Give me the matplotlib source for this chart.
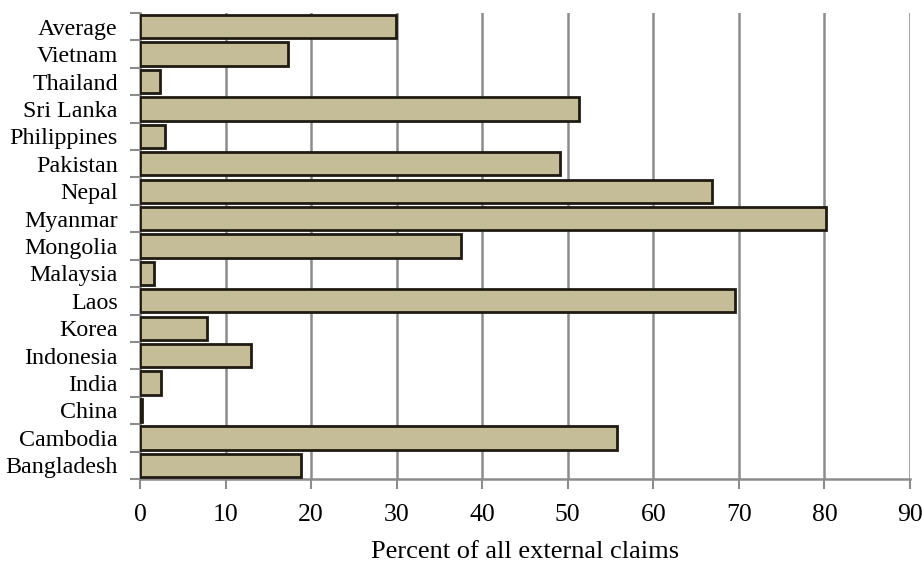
import matplotlib
matplotlib.use("Agg")
import matplotlib.pyplot as plt
import numpy as np

categories = ["Bangladesh", "Cambodia", "China", "India", "Indonesia", "Korea", "Laos",
              "Malaysia", "Mongolia", "Myanmar", "Nepal", "Pakistan", "Philippines",
              "Sri Lanka", "Thailand", "Vietnam", "Average"]
values = [18.8, 55.7, 0.2, 2.5, 13.0, 7.8, 69.6, 1.6, 37.5, 80.2, 66.8, 49.1, 2.95,
          51.3, 2.35, 17.3, 29.9]
xticks = [0, 10, 20, 30, 40, 50, 60, 70, 80, 90]

plt.rcParams['font.family'] = ['Liberation Serif', 'DejaVu Serif']

fig = plt.figure(figsize=(9.22, 5.63), dpi=100)
ax = fig.add_axes([140/922, 1-479/563, (910-140)/922, (479-13)/563])

y = np.arange(len(categories))
ax.barh(y, values, height=0.85, color='#c4bd97', edgecolor='#1f1b12', linewidth=2.0, zorder=3)

ax.set_xlim(0, 90)
ax.set_ylim(-0.5, len(categories) - 0.5)
ax.set_xticks(xticks)
ax.set_xticklabels([str(t) for t in xticks], fontsize=18.5)
ax.set_yticks(y)
ax.set_yticklabels(categories, fontsize=17.3)
ax.set_yticks(np.arange(-0.5, len(categories)), minor=True)
ax.tick_params(axis='y', which='major', length=0, pad=16)
ax.tick_params(axis='y', which='minor', length=7, width=1.5, color='#8c8c8c', direction='out')
ax.tick_params(axis='x', which='major', length=7, width=1.5, color='#8c8c8c', direction='out', pad=11)

ax.xaxis.grid(True, color='#8c8c8c', linewidth=1.8, zorder=0)
ax.set_axisbelow(True)
for s in ['top', 'right']:
    ax.spines[s].set_visible(False)
for s in ['left', 'bottom']:
    ax.spines[s].set_color('#8c8c8c')
    ax.spines[s].set_linewidth(1.8)

ax.set_xlabel("Percent of all external claims", fontsize=19, labelpad=11)

fig.savefig("out.png", dpi=100)
